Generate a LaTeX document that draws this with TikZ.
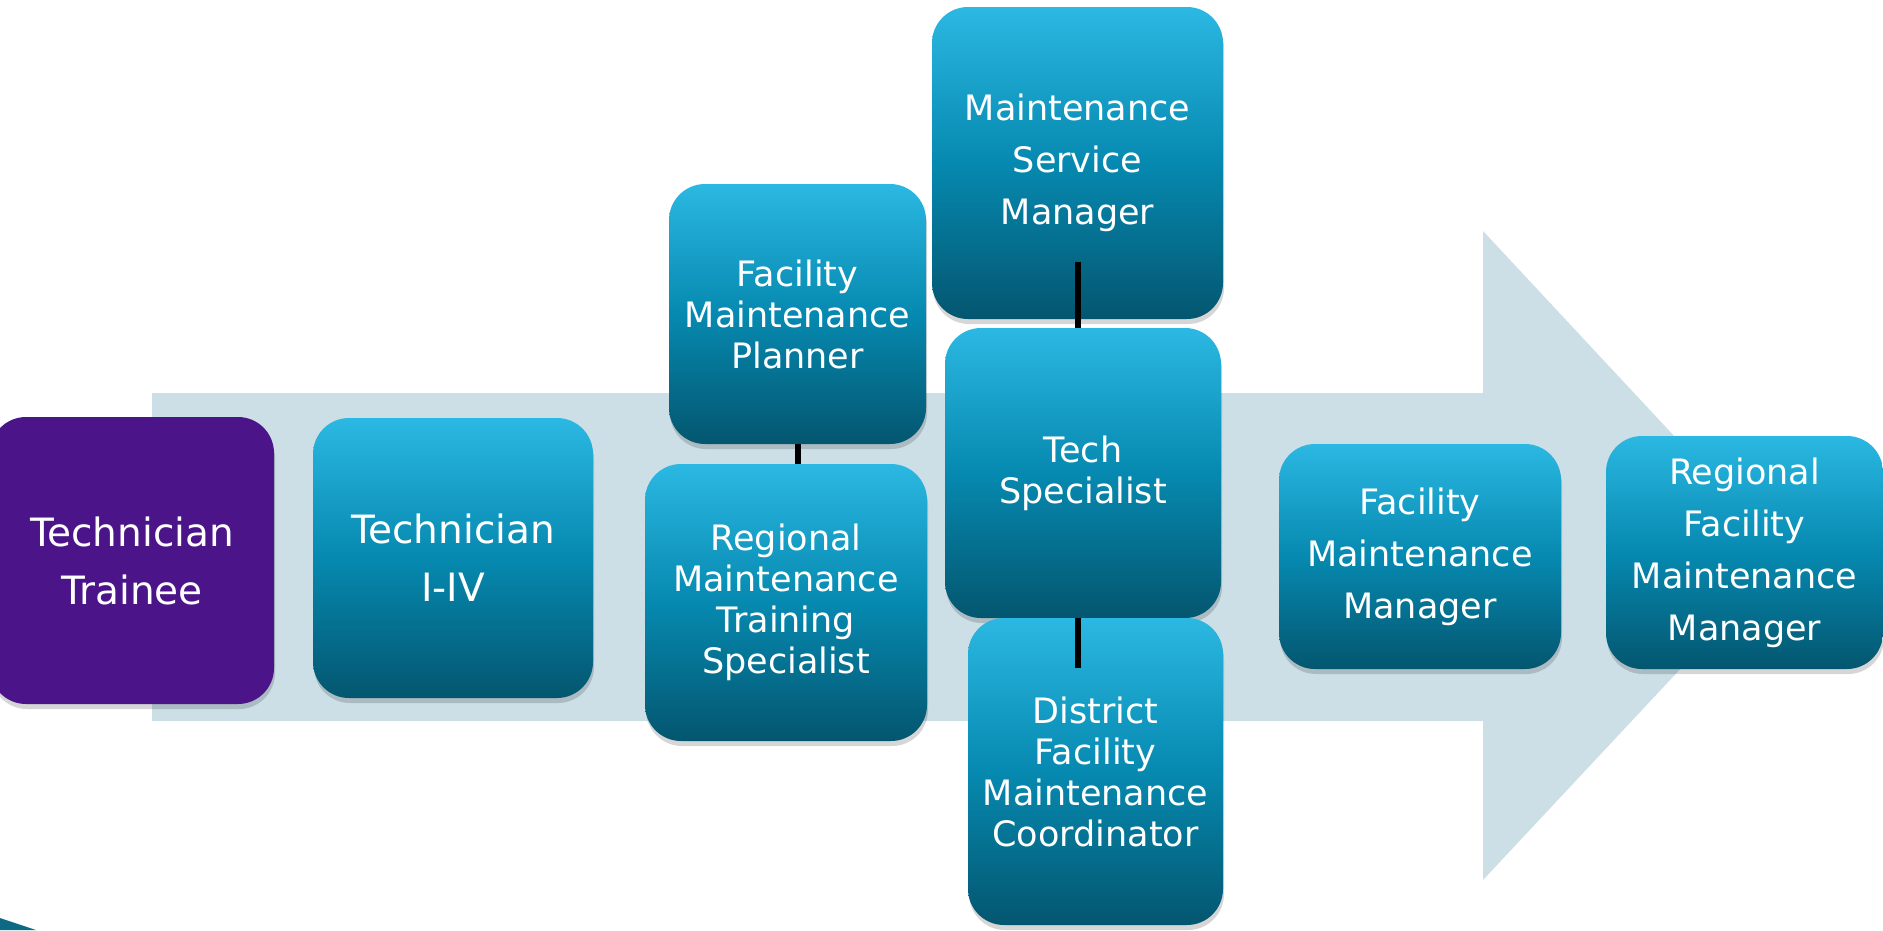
\documentclass[tikz,border=0pt]{standalone}
\usepackage{fontspec}
\setmainfont{DejaVu Sans}
\usetikzlibrary{shadows}
\definecolor{arrowc}{HTML}{CCDFE6}
\definecolor{boxtop}{HTML}{2BB8E2}
\definecolor{boxmid}{HTML}{0689B0}
\definecolor{boxbot}{HTML}{04566F}
\definecolor{purp}{HTML}{4B1589}
\definecolor{tealc}{HTML}{0E6A84}
\begin{document}
\begin{tikzpicture}[x=1pt,y=-1pt,
  base/.style={rectangle, rounded corners=36pt, inner sep=0pt, align=center, text=white,
    drop shadow={shadow xshift=1pt, shadow yshift=-5pt, opacity=0.16, fill=black}},
  box/.style={base, top color=boxtop, bottom color=boxbot, middle color=boxmid,
    font=\fontsize{35}{41}\selectfont},
  wbox/.style={box, font=\fontsize{35}{52}\selectfont},
  tbox/.style={box, font=\fontsize{39}{58}\selectfont},
  link/.style={line width=6pt, black}]
\useasboundingbox (0,0) rectangle (1883,930);
% big background arrow
\fill[arrowc] (152,393) -- (1483,393) -- (1483,231) -- (1786,556) -- (1483,880) -- (1483,721) -- (152,721) -- cycle;
% corner wedge
\fill[tealc] (0,918) -- (36,930) -- (0,930) -- cycle;
% boxes
\node[base, fill=purp, font=\fontsize{39}{58}\selectfont, minimum width=284pt, minimum height=287pt] (trainee) at (132,560.5) {Technician\\Trainee};
\node[tbox, minimum width=280pt, minimum height=280pt] (tech) at (453,558) {Technician\\I-IV};
\node[box, minimum width=257pt, minimum height=260pt] (plan) at (797.5,314) {Facility\\Maintenance\\Planner};
\node[box, minimum width=282pt, minimum height=277pt] (rtrain) at (786,602.5) {Regional\\Maintenance\\Training\\Specialist};
\node[wbox, minimum width=291pt, minimum height=312pt] (svc) at (1077.5,163) {Maintenance\\Service\\Manager};
\node[box, minimum width=276pt, minimum height=290pt] (spec) at (1083,473) {Tech\\Specialist};
\node[box, minimum width=255pt, minimum height=307pt] (dist) at (1095.5,771.5) {District\\Facility\\Maintenance\\Coordinator};
\node[wbox, minimum width=282pt, minimum height=225pt] (fmm) at (1420,556.5) {Facility\\Maintenance\\Manager};
\node[wbox, minimum width=277pt, minimum height=233pt] (rfmm) at (1744.5,552.5) {Regional\\Facility\\Maintenance\\Manager};
% connectors
\draw[link] (plan.south) -- (rtrain.north -| plan.south);
\draw[link] ([yshift=57pt]svc.south) -- (spec.north -| svc.south);
\draw[link] (spec.south -| svc.south) -- ([yshift=-50pt]dist.north -| svc.south);
\end{tikzpicture}
\end{document}
